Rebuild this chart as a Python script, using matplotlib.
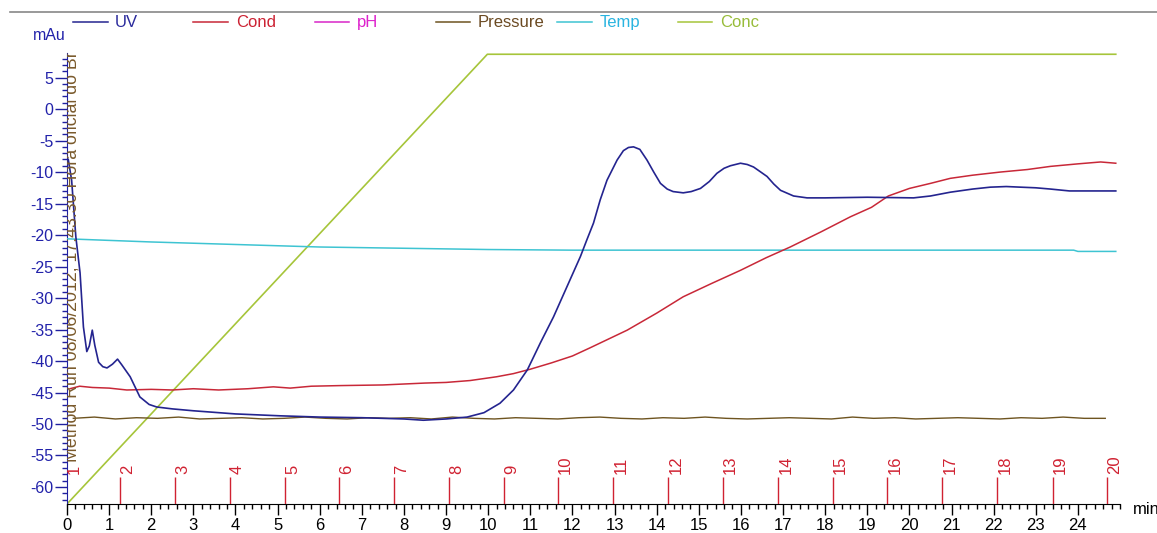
import matplotlib
matplotlib.use("Agg")
import matplotlib.pyplot as plt
from matplotlib.lines import Line2D
from matplotlib.ticker import MultipleLocator, FuncFormatter

plt.rcParams['font.family'] = ['Liberation Sans', 'DejaVu Sans']
plt.rcParams['axes.unicode_minus'] = False

# ---- chromatogram traces (time in min) ----
uv_t = [0.03, 0.11, 0.21, 0.31, 0.39, 0.47, 0.53, 0.60, 0.66, 0.75, 0.85, 0.95,
        1.08, 1.20, 1.30, 1.50, 1.73, 1.95, 2.13, 2.50, 3.00, 4.00, 5.06, 6.00,
        7.00, 8.00, 8.46, 9.00, 9.50, 9.90, 10.28, 10.60, 10.93, 11.24, 11.55,
        11.87, 12.19, 12.34, 12.50, 12.66, 12.82, 13.06, 13.21, 13.33, 13.45,
        13.60, 13.77, 13.93, 14.09, 14.25, 14.39, 14.63, 14.82, 15.04, 15.25,
        15.43, 15.60, 15.75, 15.99, 16.15, 16.30, 16.45, 16.62, 16.78, 16.94,
        17.25, 17.57, 18.00, 19.00, 20.10, 20.50, 20.97, 21.50, 21.92, 22.30,
        22.64, 23.00, 23.35, 23.80, 24.30, 24.90]
uv_v = [-8.0, -11.3, -20.3, -26.0, -34.6, -38.5, -37.6, -35.1, -37.5, -40.2, -40.9, -41.1,
        -40.5, -39.7, -40.6, -42.5, -45.7, -46.9, -47.3, -47.6, -47.9, -48.4, -48.7, -48.9,
        -49.0, -49.2, -49.4, -49.2, -48.9, -48.2, -46.7, -44.6, -41.4, -37.1, -33.0,
        -28.2, -23.4, -20.8, -18.1, -14.4, -11.3, -8.1, -6.6, -6.1, -6.0,
        -6.4, -8.1, -10.0, -11.8, -12.7, -13.1, -13.3, -13.1, -12.6, -11.5,
        -10.2, -9.4, -9.0, -8.6, -8.8, -9.2, -9.9, -10.7, -11.9, -12.9,
        -13.8, -14.1, -14.1, -14.0, -14.1, -13.8, -13.2, -12.7, -12.4, -12.3,
        -12.4, -12.5, -12.7, -13.0, -13.0, -13.0]

cond_t = [0.07, 0.30, 0.60, 1.00, 1.42, 2.00, 2.50, 3.00, 3.60, 4.30, 4.90, 5.30,
          5.80, 6.50, 7.50, 8.50, 9.00, 9.57, 10.20, 10.60, 11.00, 11.50, 12.00,
          12.42, 13.30, 14.00, 14.63, 15.30, 15.99, 16.60, 17.17, 17.90, 18.60,
          19.10, 19.50, 20.00, 20.50, 20.97, 21.50, 22.16, 22.80, 23.35, 24.00,
          24.54, 24.90]
cond_v = [-44.4, -44.0, -44.2, -44.3, -44.6, -44.5, -44.6, -44.4, -44.6, -44.4, -44.1, -44.3,
          -44.0, -43.9, -43.8, -43.5, -43.4, -43.1, -42.5, -42.0, -41.3, -40.3, -39.2,
          -37.9, -35.1, -32.4, -29.8, -27.7, -25.6, -23.6, -21.9, -19.5, -17.1,
          -15.6, -13.8, -12.6, -11.8, -11.0, -10.5, -10.0, -9.6, -9.1, -8.7,
          -8.4, -8.6]

temp_t = [0.0, 2.0, 4.0, 6.0, 8.0, 10.0, 12.0, 16.0, 20.0, 23.9, 24.0, 24.9]
temp_v = [-20.6, -21.1, -21.5, -21.9, -22.1, -22.3, -22.4, -22.4, -22.4, -22.4, -22.6, -22.6]

conc_t = [0.0, 9.98, 24.9]
conc_v = [-62.7, 8.7, 8.7]

pres_t = [0.15 + 0.5 * i for i in range(50)]
pres_v = [-49.1, -48.9, -49.2, -49.0, -49.1, -48.9, -49.2, -49.1, -49.0, -49.2,
          -49.1, -48.9, -49.1, -49.2, -49.0, -49.1, -49.0, -49.2, -48.9, -49.1,
          -49.2, -49.0, -49.1, -49.2, -49.0, -48.9, -49.1, -49.2, -49.0, -49.1,
          -48.9, -49.1, -49.2, -49.1, -49.0, -49.1, -49.2, -48.9, -49.1, -49.0,
          -49.2, -49.1, -49.0, -49.1, -49.2, -49.0, -49.1, -48.9, -49.1, -49.1]

# ---- fraction marks ----
frac_t = [0.0, 1.26, 2.57, 3.87, 5.18, 6.46, 7.77, 9.07, 10.38, 11.66, 12.97,
          14.28, 15.58, 16.89, 18.19, 19.48, 20.78, 22.09, 23.40, 24.70]
frac_labels = [str(i + 1) for i in range(len(frac_t))]

series_names = ["UV", "Cond", "pH", "Pressure", "Temp", "Conc"]
series_colors = ["#24248f", "#c82838", "#d826c8", "#6e5420", "#3ec4d2", "#a6c53a"]
label_colors = ["#2a2a9c", "#cc2233", "#dd22cc", "#6b4a22", "#2ab4e0", "#98bc3a"]

W, H = 1157, 533
fig = plt.figure(figsize=(W / 100, H / 100), dpi=100)
fig.patch.set_facecolor("white")

x0, x1, ytop, ybot = 67, 1120, 53, 504
ax = fig.add_axes([x0 / W, (H - ybot) / H, (x1 - x0) / W, (ybot - ytop) / H])
ax.set_xlim(0, 25)
ax.set_ylim(-62.7, 8.9)

ax.plot(conc_t, conc_v, color=series_colors[5], lw=1.2, zorder=2)
ax.plot(temp_t, temp_v, color=series_colors[4], lw=1.1, zorder=3)
ax.plot(pres_t, pres_v, color=series_colors[3], lw=1.0, zorder=3)
ax.plot(cond_t, cond_v, color=series_colors[1], lw=1.1, zorder=4)
ax.plot(uv_t, uv_v, color=series_colors[0], lw=1.2, zorder=5)

# fraction ticks and numbers
frac_color = "#d02232"
ax.vlines(frac_t[1:], -62.7, -58.4, color=frac_color, lw=1.0, zorder=4)
for t, lab in zip(frac_t, frac_labels):
    ax.text(t, -58.0, lab, rotation=90, ha="left", va="bottom",
            color=frac_color, fontsize=12, zorder=6)

# run annotation along the y axis
ax.text(0.13, -56.0, "Method Run 08/06/2012, 17:43:30 Hora oficial do Br",
        rotation=90, ha="center", va="bottom", color="#7a5a2c",
        fontsize=12.8, clip_on=True, zorder=6)

# axes styling
for s in ("top", "right"):
    ax.spines[s].set_visible(False)
ax.spines["left"].set_color("#2020a0")
ax.spines["bottom"].set_color("black")

ax.xaxis.set_minor_locator(MultipleLocator(0.2))
ax.yaxis.set_minor_locator(MultipleLocator(1))
ax.set_xticks(range(0, 25))
ax.set_yticks(range(-60, 6, 5))
ax.xaxis.set_major_formatter(FuncFormatter(lambda v, p: f"{int(round(v))}"))
ax.yaxis.set_major_formatter(FuncFormatter(lambda v, p: f"{int(round(v))}"))

ax.tick_params(axis="y", which="major", length=8.6, width=1, color="#2020a0",
               labelcolor="#2222aa", labelsize=11.5, pad=1)
ax.tick_params(axis="y", which="minor", length=3.6, width=1, color="#2020a0")
ax.tick_params(axis="x", which="major", length=8, width=1, color="black",
               labelcolor="black", labelsize=12, pad=2)
ax.tick_params(axis="x", which="minor", length=3.6, width=1, color="black")

# unit labels
fig.text(66 / W, 1 - 36 / H, "mAu", ha="right", va="center", color="#2222aa", fontsize=11.5)
fig.text(1133 / W, 1 - 509 / H, "min", ha="left", va="center", color="black", fontsize=12)

# header rule
fig.add_artist(Line2D([10 / W, 1.0], [1 - 12 / H, 1 - 12 / H], color="#888888", lw=1.2))

# legend row
leg = [(73, 108, 115), (193, 228, 236), (315, 349, 357),
       (436, 470, 478), (557, 592, 600), (678, 712, 720)]
ly = 1 - 22 / H
for (a, b, tx), name, lc, tc in zip(leg, series_names, series_colors, label_colors):
    fig.add_artist(Line2D([a / W, b / W], [ly, ly], color=lc, lw=1.1))
    fig.text(tx / W, ly, name, ha="left", va="center", color=tc, fontsize=12)

fig.savefig("out.png", dpi=100, facecolor="white")
